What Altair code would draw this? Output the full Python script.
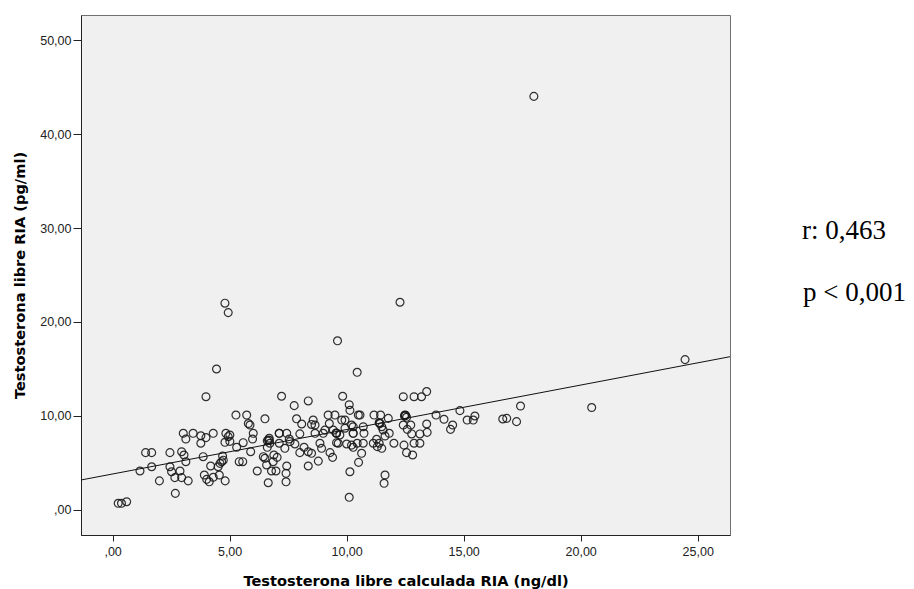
import altair as alt
import pandas as pd

# Testosterona libre calculada RIA (ng/dl)
x_vals = [
    0.24, 0.38, 0.60, 1.17, 1.41, 1.67, 1.67, 2.00, 2.45, 2.45, 2.52, 2.66, 2.68, 2.88, 2.95, 2.95,
    3.02, 3.05, 3.13, 3.13, 3.23, 3.44, 3.77, 3.77, 3.87, 3.92, 3.99, 3.99, 4.02, 4.13,
    4.19, 4.30, 4.30, 4.44, 4.51, 4.56, 4.59, 4.66, 4.70, 4.73,
    4.80, 4.80, 4.81, 4.84, 4.94, 4.94, 5.01, 5.01, 5.27, 5.30, 5.41,
    5.56, 5.58, 5.73, 5.80, 5.87, 5.90, 5.98, 6.01,
    6.18, 6.44, 6.51, 6.51, 6.58, 6.61, 6.61, 6.65, 6.69, 6.72, 6.79, 6.86, 6.89, 6.98, 7.03,
    7.12, 7.12, 7.22, 7.36, 7.41, 7.41, 7.44, 7.44, 7.55, 7.58, 7.76, 7.79, 7.86,
    8.00, 8.00, 8.08, 8.18, 8.36, 8.36, 8.36, 8.50, 8.57, 8.65, 8.65, 8.79, 8.86, 8.93,
    9.00, 9.07, 9.21, 9.26, 9.29, 9.40, 9.43, 9.50, 9.57, 9.57, 9.61, 9.64, 9.71, 9.79, 9.83, 9.93, 9.93,
    10.00, 10.11, 10.14, 10.11, 10.14, 10.21, 10.21, 10.28, 10.28, 10.28, 10.45, 10.50, 10.45, 10.51,
    10.57, 10.64, 10.71, 10.74, 10.71,
    11.14, 11.17, 11.28, 11.31, 11.39, 11.39, 11.45, 11.50, 11.50, 11.56, 11.60, 11.64, 11.64, 11.78, 11.82,
    12.02, 12.28, 12.42, 12.42, 12.45, 12.49, 12.56, 12.56, 12.59, 12.74, 12.78, 12.82, 12.88, 12.88,
    13.13, 13.13, 13.20, 13.42, 13.42, 13.44, 13.82,
    14.16, 14.44, 14.53, 14.84, 15.15, 15.41, 15.48,
    16.67, 16.84, 17.26, 17.43, 18.00, 20.47, 24.46,
    6.70, 6.66, 9.57, 9.55, 11.40, 11.43, 12.50, 12.47, 12.52, 8.50, 7.12, 10.28,
]
# Testosterona libre RIA (pg/ml)
y_vals = [
    0.71, 0.71, 0.88, 4.15, 6.10, 6.10, 4.60, 3.10, 6.10, 4.60, 4.07, 3.44, 1.77, 4.15, 6.20, 3.44,
    8.16, 5.85, 7.55, 5.14, 3.10, 8.16, 7.90, 7.10, 5.67, 3.72, 7.70, 12.05, 3.26, 3.00,
    4.68, 8.16, 3.48, 15.00, 4.60, 3.72, 4.96, 5.14, 5.74, 5.30,
    22.00, 7.20, 3.10, 8.16, 21.00, 7.80, 7.30, 7.98, 10.10, 6.67, 5.14,
    5.14, 7.16, 10.10, 9.20, 9.04, 6.20, 7.55, 8.16,
    4.15, 5.67, 9.70, 5.50, 4.79, 7.37, 6.67, 2.90, 7.63, 7.10, 4.15, 5.14, 5.85, 4.15, 5.60,
    8.16, 7.10, 12.10, 6.56, 3.90, 3.00, 8.16, 4.68, 7.55, 7.27, 11.10, 7.02, 9.70,
    8.10, 6.10, 9.15, 6.67, 11.60, 6.20, 4.68, 6.03, 9.57, 9.04, 8.16, 5.20, 7.10, 6.56,
    8.16, 8.50, 10.10, 9.20, 6.10, 5.60, 8.50, 10.10, 8.16, 7.16, 18.00, 7.10, 7.98, 9.57, 12.10, 9.57, 8.70,
    7.02, 11.20, 10.60, 1.35, 4.07, 9.04, 6.90, 8.16, 6.67, 8.86, 14.65, 10.10, 7.10, 5.07,
    10.10, 6.03, 8.86, 8.16, 7.10,
    7.10, 10.10, 7.52, 6.74, 9.29, 7.10, 10.10, 8.86, 6.56, 8.51, 2.84, 3.72, 7.87, 9.75, 8.16,
    7.10, 22.10, 12.05, 9.04, 6.90, 10.10, 9.86, 6.10, 8.58, 9.04, 8.09, 5.85, 12.05, 7.10,
    8.09, 7.10, 12.05, 12.60, 9.15, 8.26, 10.10,
    9.65, 8.58, 9.04, 10.57, 9.57, 9.57, 10.00,
    9.68, 9.75, 9.40, 11.06, 44.00, 10.90, 16.00,
    7.40, 7.45, 8.16, 8.20, 9.25, 9.20, 10.05, 10.00, 10.08, 9.10, 8.16, 8.16,
]

# Fitted linear regression line
fit_intercept = [3.83]
fit_slope = [0.473]

x_domain = [-1.35, 26.38]
y_domain = [-2.66, 52.66]
x_ticks = [0, 5, 10, 15, 20, 25]
y_ticks = [0, 10, 20, 30, 40, 50]

stats_text = ["r: 0,463", "p < 0,001"]

x_title = "Testosterona libre calculada RIA (ng/dl)"
y_title = "Testosterona libre RIA (pg/ml)"

points = pd.DataFrame({"x": x_vals, "y": y_vals})
fit = pd.DataFrame({
    "x": x_domain,
    "y": [fit_intercept[0] + fit_slope[0] * v for v in x_domain],
})

label_expr = "datum.value == 0 ? ',00' : replace(format(datum.value, '.2f'), '.', ',')"

xs = alt.Scale(domain=x_domain, nice=False, zero=False)
ys = alt.Scale(domain=y_domain, nice=False, zero=False)

x_axis = alt.Axis(values=x_ticks, labelExpr=label_expr, title=x_title, grid=False,
                  tickSize=6, labelPadding=4,
                  titleX=324.5, titleY=50, titleBaseline="alphabetic", titleAlign="center")
y_axis = alt.Axis(values=y_ticks, labelExpr=label_expr, title=y_title, grid=False,
                  tickSize=8, labelPadding=2,
                  titleX=-61, titleY=260, titleBaseline="middle", titleAlign="center", titleAngle=270)

pts = alt.Chart(points).mark_point(
    shape="circle", filled=False, size=62, strokeWidth=1.2, color="#1a1a1a", opacity=0.9
).encode(
    x=alt.X("x:Q", scale=xs, axis=x_axis),
    y=alt.Y("y:Q", scale=ys, axis=y_axis),
)

line = alt.Chart(fit).mark_line(color="#111111", strokeWidth=1, clip=True).encode(
    x=alt.X("x:Q", scale=xs),
    y=alt.Y("y:Q", scale=ys),
)

t1 = alt.Chart(pd.DataFrame({"t": [stats_text[0]]})).mark_text(
    font="Liberation Serif", fontSize=27, align="left", baseline="alphabetic", color="#000000"
).encode(text="t:N", x=alt.value(721), y=alt.value(224))

t2 = alt.Chart(pd.DataFrame({"t": [stats_text[1]]})).mark_text(
    font="Liberation Serif", fontSize=27, align="left", baseline="alphabetic", color="#000000"
).encode(text="t:N", x=alt.value(722), y=alt.value(286))

chart = alt.layer(line, pts, t1, t2).properties(
    width=649,
    height=520,
    autosize=alt.AutoSizeParams(type="none"),
    padding={"left": 81, "top": 15, "right": 184, "bottom": 54},
    background="#ffffff",
).configure_view(
    fill="#f0f0f0", stroke="#707070", strokeWidth=1
).configure_axis(
    domainColor="#222222", tickColor="#222222", domainWidth=1, tickWidth=1,
    labelFont="Liberation Sans", labelFontSize=12.5, labelColor="#222222",
    titleFont="DejaVu Sans", titleFontSize=14.6, titleFontWeight="bold", titleColor="#000000",
)

chart.save("out.html", embed_options={"renderer": "svg", "actions": False})
